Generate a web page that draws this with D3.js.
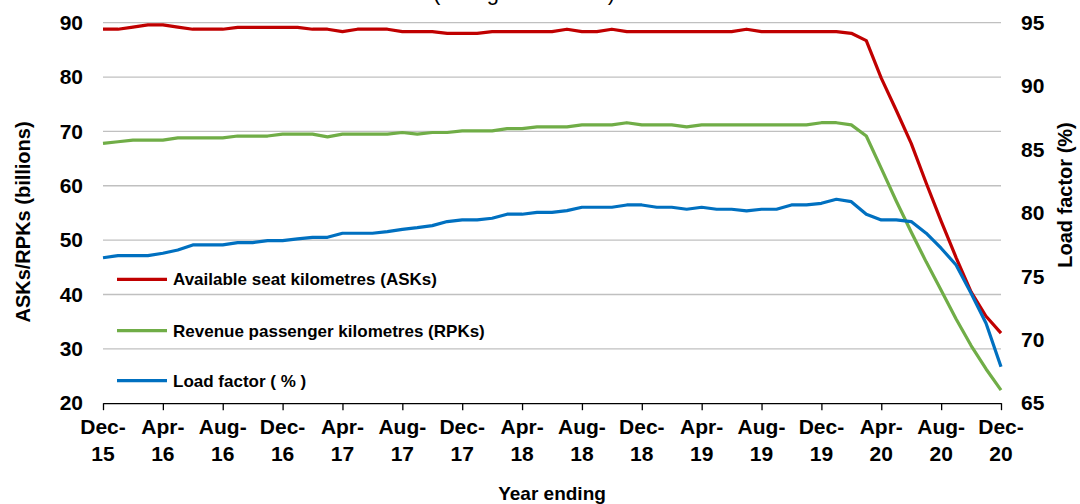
<!DOCTYPE html>
<html><head><meta charset="utf-8">
<script src="https://cdn.jsdelivr.net/npm/d3@7"></script>
<style>
html,body{margin:0;padding:0;background:#fff;}
svg{display:block;font-family:"Liberation Sans",Arial,sans-serif;}
</style></head>
<body>
<svg id="chart" width="1080" height="504"></svg>
<script>
// Months Dec-15 .. Dec-20 (61 monthly points, year ending)
const months = d3.range(61);
const tickIdx = [0,4,8,12,16,20,24,28,32,36,40,44,48,52,56,60];
const tickLabels = ["Dec-|15","Apr-|16","Aug-|16","Dec-|16","Apr-|17","Aug-|17","Dec-|17","Apr-|18","Aug-|18","Dec-|18","Apr-|19","Aug-|19","Dec-|19","Apr-|20","Aug-|20","Dec-|20"];
const leftTicks = [20,30,40,50,60,70,80,90];
const rightTicks = [65,70,75,80,85,90,95];

const asks = [88.8,88.8,89.2,89.6,89.6,89.2,88.8,88.8,88.8,89.15,89.15,89.15,89.15,89.15,88.8,88.8,88.35,88.8,88.8,88.8,
  88.35,88.35,88.35,88.05,88.05,88.05,88.35,88.35,88.35,88.35,88.35,88.8,88.35,88.35,88.8,88.35,88.35,88.35,88.35,88.35,
  88.35,88.35,88.35,88.8,88.35,88.35,88.35,88.35,88.35,88.35,88.05,86.7,79.8,73.9,67.8,60.5,53.5,46.8,40.5,36.0,32.9];
const rpks = [67.8,68.1,68.4,68.4,68.4,68.8,68.8,68.8,68.8,69.15,69.15,69.15,69.5,69.5,69.5,69.0,69.5,69.5,69.5,69.5,
  69.8,69.5,69.8,69.8,70.1,70.1,70.1,70.5,70.5,70.85,70.85,70.85,71.2,71.2,71.2,71.6,71.2,71.2,71.2,70.85,
  71.2,71.2,71.2,71.2,71.2,71.2,71.2,71.2,71.6,71.6,71.2,69.15,63.2,57.2,51.5,46.0,40.8,35.5,30.6,26.3,22.4];
const loadFactor = [76.47,76.63,76.63,76.63,76.82,77.08,77.48,77.48,77.48,77.66,77.66,77.82,77.82,77.95,78.08,78.08,78.4,78.4,78.4,78.53,
  78.71,78.84,79.0,79.32,79.45,79.45,79.58,79.9,79.9,80.05,80.05,80.18,80.45,80.45,80.45,80.63,80.63,80.45,80.45,80.29,
  80.45,80.29,80.29,80.16,80.29,80.29,80.63,80.63,80.76,81.08,80.89,79.9,79.45,79.45,79.32,78.4,77.22,75.9,73.67,71.3,67.88];

const seriesNames = ["Available seat kilometres (ASKs)","Revenue passenger kilometres (RPKs)","Load factor ( % )"];
const colors = ["#C00000","#70AD47","#0070C0"];

const svg = d3.select("#chart");
const L = 103, R = 1001, T = 22.7, B = 403.2;

const x = d3.scaleLinear().domain([0,60]).range([L,R]);
const yL = d3.scaleLinear().domain([20,90]).range([B,T]);
const yR = d3.scaleLinear().domain([65,95]).range([B,T]);

// Title (cropped at top)
svg.append("text").attr("x",433).attr("y",0).attr("font-size",22)
  .attr("fill","#000").text("(rolling 12 months)");

// gridlines
svg.append("g").selectAll("line").data(leftTicks.slice(1)).join("line")
  .attr("x1",L).attr("x2",R).attr("y1",d=>yL(d)).attr("y2",d=>yL(d))
  .attr("stroke","#c0c0c0").attr("stroke-width",1.3);

// x axis
const xAxis = svg.append("g").attr("transform",`translate(0,${B})`)
  .call(d3.axisBottom(x).tickValues(tickIdx).tickSize(7).tickSizeOuter(0).tickFormat(""));
xAxis.select(".domain").attr("stroke","#000").attr("stroke-width",1.3);
xAxis.selectAll(".tick line").attr("stroke","#000").attr("stroke-width",1.3);
const xl = svg.append("g").selectAll("text").data(tickIdx).join("text")
  .attr("x",d=>x(d)).attr("text-anchor","middle").attr("font-size",21).attr("font-weight","bold");
xl.each(function(d,i){
  const parts = tickLabels[i].split("|");
  const t = d3.select(this);
  t.append("tspan").attr("x",x(d)).attr("y",434).text(parts[0]);
  t.append("tspan").attr("x",x(d)).attr("y",461).text(parts[1]);
});

// left axis
const la = svg.append("g").attr("transform",`translate(${L-20},0)`)
  .call(d3.axisLeft(yL).tickValues(leftTicks).tickSize(0).tickPadding(0));
la.select(".domain").remove();
la.selectAll("text").attr("font-size",21).attr("font-weight","bold").attr("fill","#000")
  .attr("font-family","Liberation Sans, Arial, sans-serif");

// right axis
const ra = svg.append("g").attr("transform",`translate(${R+20},0)`)
  .call(d3.axisRight(yR).tickValues(rightTicks).tickSize(0).tickPadding(0));
ra.select(".domain").remove();
ra.selectAll("text").attr("font-size",21).attr("font-weight","bold").attr("fill","#000")
  .attr("font-family","Liberation Sans, Arial, sans-serif");

// axis titles
svg.append("text").attr("transform","translate(30,222) rotate(-90)").attr("text-anchor","middle")
  .attr("font-size",20).attr("font-weight","bold").text("ASKs/RPKs (billions)");
svg.append("text").attr("transform","translate(1072,195) rotate(-90)").attr("text-anchor","middle")
  .attr("font-size",20).attr("font-weight","bold").text("Load factor (%)");
svg.append("text").attr("x",552).attr("y",500).attr("text-anchor","middle")
  .attr("font-size",19).attr("font-weight","bold").text("Year ending");

// lines
const lineL = d3.line().x((d,i)=>x(months[i])).y(d=>yL(d));
const lineR = d3.line().x((d,i)=>x(months[i])).y(d=>yR(d));
svg.append("path").attr("d",lineL(asks)).attr("fill","none").attr("stroke",colors[0]).attr("stroke-width",3.2).attr("stroke-linejoin","round");
svg.append("path").attr("d",lineL(rpks)).attr("fill","none").attr("stroke",colors[1]).attr("stroke-width",3.2).attr("stroke-linejoin","round");
svg.append("path").attr("d",lineR(loadFactor)).attr("fill","none").attr("stroke",colors[2]).attr("stroke-width",3.2).attr("stroke-linejoin","round");

// legend
const legY = [279.3,330.7,380.7];
const lg = svg.append("g");
seriesNames.forEach((n,i)=>{
  lg.append("line").attr("x1",117).attr("x2",167).attr("y1",legY[i]).attr("y2",legY[i])
    .attr("stroke",colors[i]).attr("stroke-width",3.2);
  lg.append("text").attr("x",173).attr("y",legY[i]+6).attr("font-size",17).attr("font-weight","bold").text(n);
});
</script>
</body></html>
